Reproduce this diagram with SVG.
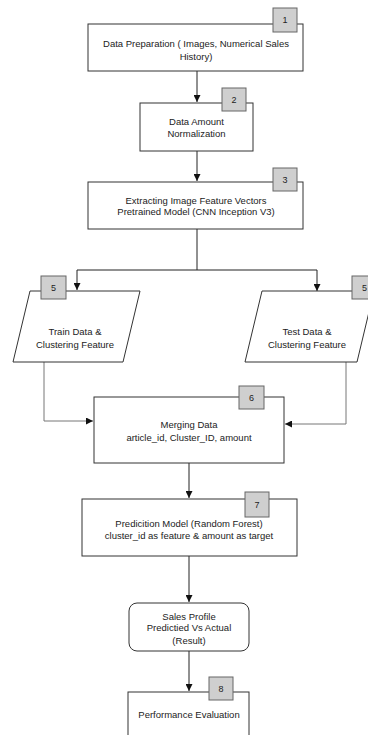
<svg xmlns="http://www.w3.org/2000/svg" width="368" height="735" viewBox="0 0 368 735">
<defs>
<marker id="ah" viewBox="0 0 8 8" refX="8" refY="4" markerWidth="7" markerHeight="7" markerUnits="userSpaceOnUse" orient="auto">
<path d="M0,0 L8,4 L0,8 z" fill="#111"/>
</marker>
</defs>
<style>
.box{fill:#fff;stroke:#333;stroke-width:1}
.badge{fill:#cfcfcf;stroke:#666;stroke-width:1}
.t{font-family:"Liberation Sans",Arial,sans-serif;font-size:9.5px;fill:#222;text-anchor:middle}
.b{font-family:"Liberation Sans",Arial,sans-serif;font-size:9px;fill:#222;text-anchor:middle}
.c{fill:none;stroke:#222;stroke-width:1}
.g{fill:none;stroke:#777;stroke-width:1}
</style>
<rect width="368" height="735" fill="#fff"/>
<g id="connectors">
<path class="c" d="M197,71 V102" marker-end="url(#ah)"/>
<path class="c" d="M197,151 V181" marker-end="url(#ah)"/>
<path class="c" d="M197,229 V270 M77,270 H317"/>
<path class="c" d="M77,270 V290" marker-end="url(#ah)"/>
<path class="c" d="M317,270 V291" marker-end="url(#ah)"/>
<path class="g" d="M44,362 V421 H93" marker-end="url(#ah)"/>
<path class="g" d="M346,362 V424 H285" marker-end="url(#ah)"/>
<path class="c" d="M189,463 V498" marker-end="url(#ah)"/>
<path class="c" d="M189,556 V602" marker-end="url(#ah)"/>
<path class="c" d="M189,651 V691" marker-end="url(#ah)"/>
</g>
<g id="n1">
<rect class="box" x="88" y="24" width="215" height="47"/>
<rect class="badge" x="273" y="8" width="24" height="24"/>
<text class="b" x="285" y="23">1</text>
<text class="t" x="196" y="46.5">Data Preparation ( Images, Numerical Sales</text>
<text class="t" x="196" y="60">History)</text>
</g>
<g id="n2">
<rect class="box" x="140" y="103" width="113" height="48"/>
<rect class="badge" x="222" y="88" width="24" height="23"/>
<text class="b" x="234" y="103">2</text>
<text class="t" x="196.5" y="124.5">Data Amount</text>
<text class="t" x="196.5" y="136.5">Normalization</text>
</g>
<g id="n3">
<rect class="box" x="88" y="182" width="215" height="47"/>
<rect class="badge" x="273" y="168" width="24" height="23"/>
<text class="b" x="285" y="183">3</text>
<text class="t" x="196" y="203.5">Extracting Image Feature Vectors</text>
<text class="t" x="196" y="215">Pretrained Model (CNN Inception V3)</text>
</g>
<g id="n5a">
<polygon class="box" points="30,291 140,291 123,362 13,362"/>
<rect class="badge" x="41" y="276" width="25" height="23"/>
<text class="b" x="53.5" y="291">5</text>
<text class="t" x="75" y="334.5">Train Data &amp;</text>
<text class="t" x="75" y="347.5">Clustering Feature</text>
</g>
<g id="n5b">
<polygon class="box" points="262,291 374,291 357,362 245,362"/>
<rect class="badge" x="352" y="276" width="25" height="23"/>
<text class="b" x="364.5" y="291">5</text>
<text class="t" x="307" y="334.5">Test Data &amp;</text>
<text class="t" x="307" y="347.5">Clustering Feature</text>
</g>
<g id="n6">
<rect class="box" x="94" y="397" width="190" height="66"/>
<rect class="badge" x="239" y="386" width="25" height="23"/>
<text class="b" x="251.5" y="401">6</text>
<text class="t" x="189" y="427.5">Merging Data</text>
<text class="t" x="189" y="440.5">article_id, Cluster_ID, amount</text>
</g>
<g id="n7">
<rect class="box" x="82" y="499" width="215" height="57"/>
<rect class="badge" x="245" y="492" width="24" height="25"/>
<text class="b" x="257" y="507.5">7</text>
<text class="t" x="189" y="526.5">Predicition Model (Random Forest)</text>
<text class="t" x="189" y="538.5">cluster_id as feature &amp; amount as target</text>
</g>
<g id="n-result">
<rect class="box" x="129" y="603" width="120" height="48" rx="8" ry="8"/>
<text class="t" x="189" y="619.5">Sales Profile</text>
<text class="t" x="189" y="631">Predictied Vs Actual</text>
<text class="t" x="189" y="643.5">(Result)</text>
</g>
<g id="n8">
<rect class="box" x="128" y="692" width="121" height="60"/>
<rect class="badge" x="209" y="677" width="24" height="23"/>
<text class="b" x="221" y="692">8</text>
<text class="t" x="189" y="717.5">Performance Evaluation</text>
</g>
</svg>
